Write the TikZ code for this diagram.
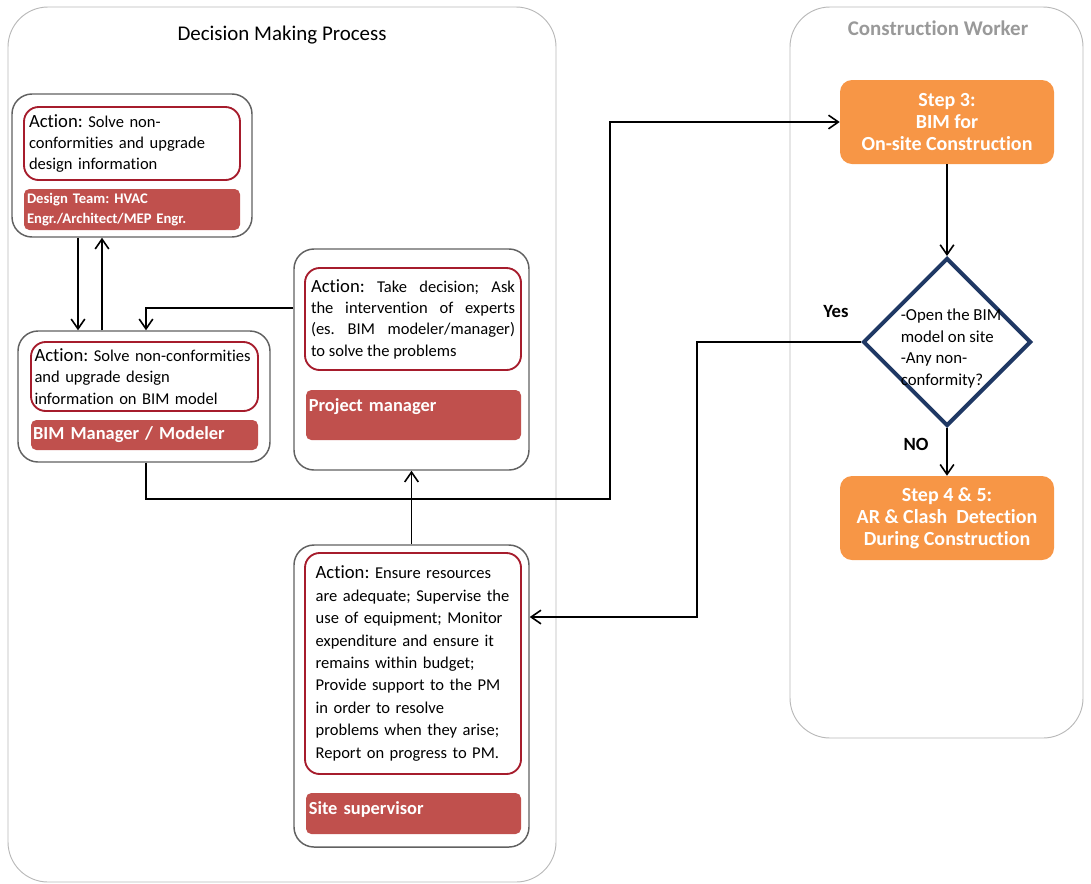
\documentclass[tikz,border=0pt]{standalone}
\usepackage{fontspec}
\setmainfont{Carlito}[Ligatures=NoCommon]
\usepackage{xcolor}
\usepackage{tikz}
\usetikzlibrary{arrows.meta,positioning,shapes.geometric,fit}
\frenchspacing
\definecolor{rolered}{HTML}{C0504D}
\definecolor{actred}{HTML}{A61C2C}
\definecolor{steporange}{HTML}{F79646}
\definecolor{decnavy}{HTML}{1F3864}
\newcommand{\actword}{{\fontsize{14}{16}\selectfont Action:}}
\tikzset{
  >={Straight Barb[length=2.6mm,width=3.6mm]},
  panel/.style={draw=black!28, line width=0.7pt, rounded corners=30pt, inner sep=0pt},
  role/.style={draw=black!62, line width=1.1pt, rounded corners=15pt, inner sep=0pt},
  act/.style={draw=actred, line width=1.4pt, rounded corners=11pt, inner sep=0pt, align=left, font=\fontsize{12.4}{16}\selectfont},
  lbl/.style={fill=rolered, rounded corners=4pt, inner sep=0pt, text=white, align=left, font=\bfseries\fontsize{13.8}{17}\selectfont},
  stepbox/.style={fill=steporange, rounded corners=9pt, inner sep=0pt, text=white, align=center,
    minimum width=160.5pt, minimum height=63pt, font=\bfseries\fontsize{15}{16.5}\selectfont},
  flow/.style={->, line width=1.2pt},
}

\begin{document}
\begin{tikzpicture}[x=0.75pt, y=-0.75pt]
  \useasboundingbox (0,0) rectangle (1091,883);
  % the two lanes
  \node[panel, fit={(8,7) (556,882)}] (dmp) {};
  \node[font=\fontsize{15.7}{18}\selectfont] (dmptitle) at (282,35) {Decision Making Process};
  \node[panel, fit={(790,7) (1083,738)}] (cw) {};
  \node[text=black!40, font=\bfseries\fontsize{15.7}{18}\selectfont] (cwtitle) at (938,28) {Construction Worker};

  % design team
  \node[role, fit={(12,94) (252,237)}] (design) {};
  \node[act, text width=154.5pt, minimum width=162pt, minimum height=54.75pt] (designact) at (132,143.5)
    {\actword{} Solve non-\\conformities and upgrade\\design information};
  \node[lbl, text width=157.5pt, minimum width=162pt, minimum height=30.75pt,
        font=\bfseries\fontsize{11}{15}\selectfont] (designlbl) at (132,209.5)
    {Design Team: HVAC\\Engr./Architect/MEP Engr.};

  % bim manager
  \node[role, fit={(18,331) (270,462)}] (bim) {};
  \node[act, text width=165pt, minimum width=170.25pt, minimum height=51.75pt] (bimact) at (144.5,376.5)
    {\mbox{\actword{} Solve non-conformities}\\and upgrade design\\information on BIM model};
  \node[lbl, text width=167pt, minimum width=170.25pt, minimum height=22.5pt] (bimlbl) at (144.5,435)
    {BIM Manager / Modeler};

  % project manager
  \node[role, fit={(294,249) (529,470)}] (pm) {};
  \node[act, align=justify, text width=153pt, minimum width=162pt, minimum height=76.5pt] (pmact) at (413,319)
    {\actword{} Take decision; Ask\linebreak the intervention of experts\linebreak
     (es. BIM modeler/manager)\linebreak to solve the problems};
  \node[lbl, text width=157pt, text height=15.75pt, text depth=21.75pt, minimum width=161.25pt] (pmlbl) at (413.5,415)
    {Project manager};

  % site supervisor
  \node[role, fit={(294,545) (529,847)}] (site) {};
  \node[act, text width=146pt, minimum width=162pt, minimum height=165.75pt,
        font=\fontsize{12.4}{16.8}\selectfont] (siteact) at (413,663.5)
    {\actword{} Ensure resources\\are adequate; Supervise the\\use of equipment; Monitor\\
     expenditure and ensure it\\remains within budget;\\Provide support to the PM\\
     in order to resolve\\problems when they arise;\\Report on progress to PM.};
  \node[lbl, text width=157pt, text height=15.75pt, text depth=15pt, minimum width=161.25pt] (sitelbl) at (413.5,813.5)
    {Site supervisor};

  % construction worker
  \node[stepbox] (step3) at (947,122) {Step 3:\\BIM for\\On-site Construction};
  \node[diamond, draw=decnavy, line width=3pt, minimum width=126pt, minimum height=126pt, inner sep=0pt,
        label={[align=left, font=\fontsize{12.6}{16.2}\selectfont, xshift=3pt, yshift=-5pt]center:-Open the BIM\\model on site\\-Any non-\\conformity?}] (dec) at (947,342) {};
  \node[stepbox] (step45) at (947,518) {Step 4 \& 5:\\AR \& Clash\ \ Detection\\During Construction};
  \node[font=\bfseries\fontsize{14}{16}\selectfont] (yes) at (836,312) {Yes};

  % flows
  \draw[flow] (design.south -| 78,0) -- (bim.north -| 78,0);
  \draw[flow] (bim.north -| 102,0) -- (design.south -| 102,0);
  \draw[flow] (pm.west |- 0,308) -| (bim.north -| 146,0);
  \draw[flow] (bim.south -| 146,0) |- (610,499) |- (step3.west);
  \draw[flow] (site.north) -- (pm.south);
  \draw[flow] (dec.west) -| (697,617) -- (site.east |- 0,617);
  \draw[flow] (step3) -- (dec);
  \draw[flow] (dec) -- node[pos=0.35, left=10pt, font=\bfseries\fontsize{14}{16}\selectfont] {NO} (step45);
\end{tikzpicture}
\end{document}
